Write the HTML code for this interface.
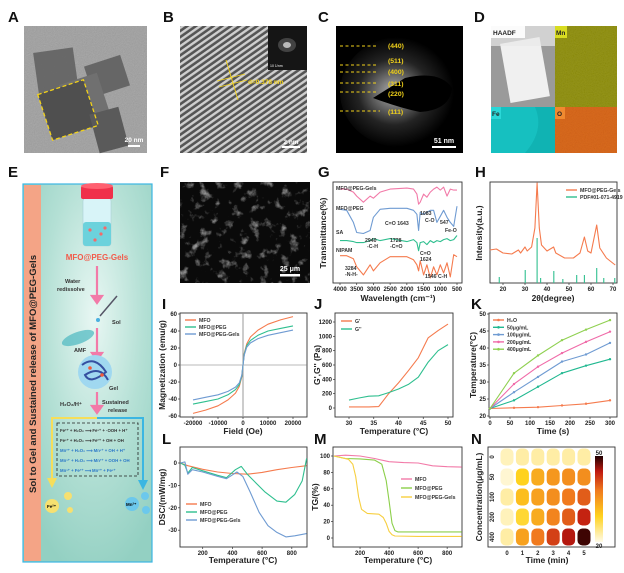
<!DOCTYPE html>
<html><head><meta charset="utf-8"><style>
html,body{margin:0;padding:0;background:#fff}
svg text{font-family:"Liberation Sans",Arial,sans-serif}
.pl{font-size:15px;font-weight:bold;fill:#111}
.tk{font-size:6px;font-weight:bold;fill:#222}
.at{font-size:8.5px;font-weight:bold;fill:#222}
.lg{font-size:5.2px;font-weight:bold;fill:#333}
</style></head><body>
<svg id="fig" width="624" height="568" viewBox="0 0 624 568" xmlns="http://www.w3.org/2000/svg">
<defs>
<filter id="noise" x="0" y="0" width="1" height="1"><feTurbulence type="fractalNoise" baseFrequency="0.9" numOctaves="2" result="n"/><feColorMatrix type="saturate" values="0"/><feComponentTransfer><feFuncA type="linear" slope="0.35"/></feComponentTransfer><feBlend in2="SourceGraphic" mode="overlay"/></filter>
<filter id="sem" x="0" y="0" width="1" height="1"><feTurbulence type="fractalNoise" baseFrequency="0.1" numOctaves="4" seed="3"/><feColorMatrix type="matrix" values="0 0 0 0 0.5  0 0 0 0 0.5  0 0 0 0 0.5  0 0 0 2.6 -1.45"/></filter>
<pattern id="stripes" width="5" height="5" patternUnits="userSpaceOnUse" patternTransform="rotate(-35)"><rect width="5" height="5" fill="#555"/><rect width="5" height="2.4" fill="#cfcfcf"/></pattern>
<radialGradient id="glow" cx="0.45" cy="0.5" r="0.5"><stop offset="0" stop-color="#fff"/><stop offset="0.25" stop-color="#aaa"/><stop offset="0.6" stop-color="#333"/><stop offset="1" stop-color="#000"/></radialGradient>
<radialGradient id="ebg" cx="0.55" cy="0.35" r="0.7"><stop offset="0" stop-color="#e8f7f3"/><stop offset="0.55" stop-color="#b4e0d5"/><stop offset="1" stop-color="#93d0c2"/></radialGradient>
<linearGradient id="cbar" x1="0" y1="1" x2="0" y2="0"><stop offset="0" stop-color="#fffbe8"/><stop offset="0.3" stop-color="#ffd21e"/><stop offset="0.6" stop-color="#f07a1e"/><stop offset="0.82" stop-color="#c01a10"/><stop offset="1" stop-color="#200000"/></linearGradient>
</defs>

<text class="pl" x="8" y="22">A</text>
<text class="pl" x="163" y="22">B</text>
<text class="pl" x="318" y="22">C</text>
<text class="pl" x="474" y="22">D</text>
<text class="pl" x="8" y="177">E</text>
<text class="pl" x="160" y="177">F</text>
<text class="pl" x="318" y="177">G</text>
<text class="pl" x="475" y="177">H</text>
<text class="pl" x="162" y="309">I</text>
<text class="pl" x="314" y="309">J</text>
<text class="pl" x="471" y="309">K</text>
<text class="pl" x="162" y="444">L</text>
<text class="pl" x="314" y="444">M</text>
<text class="pl" x="471" y="444">N</text>

<g>
<rect x="24" y="26" width="123" height="127" fill="#a2a2a2" filter="url(#noise)"/>
<rect x="36" y="50" width="40" height="45" fill="#5e5e5e" transform="rotate(-8 56 72)" opacity="0.85"/>
<rect x="88" y="60" width="38" height="32" fill="#666" transform="rotate(-18 107 76)"/>
<rect x="64" y="78" width="40" height="40" fill="#707070" transform="rotate(-18 84 98)"/>
<rect x="44" y="86" width="48" height="48" fill="#4f4f4f" transform="rotate(-18 68 110)"/>
<rect x="94" y="110" width="30" height="40" fill="#5a5a5a" transform="rotate(-15 109 130)"/>
<rect x="44" y="86" width="48" height="48" fill="none" stroke="#f2d21a" stroke-width="1.3" stroke-dasharray="4 2.5" transform="rotate(-18 68 110)"/>
<rect x="128" y="145" width="12" height="2" fill="#fff"/>
<text x="134" y="142" font-size="6.5" font-weight="bold" fill="#fff" text-anchor="middle">20 nm</text>
</g>

<g>
<rect x="180" y="26" width="127" height="127" fill="url(#stripes)"/>
<rect x="268" y="26" width="39" height="44" fill="#151515"/>
<ellipse cx="287" cy="45" rx="4" ry="3" fill="#ddd"/>
<ellipse cx="287" cy="45" rx="9" ry="7" fill="#888" opacity="0.4"/>
<text x="270" y="67" font-size="3.5" fill="#fff">10 1/nm</text>
<line x1="226" y1="60" x2="238" y2="100" stroke="#f2d21a" stroke-width="0.9"/>
<line x1="217" y1="81" x2="245" y2="74" stroke="#f2d21a" stroke-width="0.9"/>
<line x1="219" y1="87" x2="247" y2="80" stroke="#f2d21a" stroke-width="0.9"/>
<text x="248" y="84" font-size="6.5" font-weight="bold" fill="#f2d21a">d=0.378 nm</text>
<rect x="282" y="146" width="18" height="2" fill="#fff"/>
<text x="291" y="144" font-size="6.5" font-weight="bold" fill="#fff" text-anchor="middle">2 nm</text>
</g>

<g>
<rect x="336" y="26" width="127" height="127" fill="#000"/>
<ellipse cx="400" cy="92" rx="60" ry="55" fill="url(#glow)" opacity="0.7"/>
<path d="M373 98 L405 78 Q440 70 452 88 Q450 110 420 112 Q400 108 373 98 Z" fill="#000"/>
<g stroke="#f2d21a" stroke-width="1" stroke-dasharray="3 2.5" fill="#f2d21a">
<line x1="340" y1="46" x2="378" y2="46"/><line x1="340" y1="65" x2="378" y2="65"/><line x1="340" y1="72" x2="378" y2="72"/><line x1="340" y1="83" x2="378" y2="83"/><line x1="340" y1="92" x2="378" y2="92"/><line x1="340" y1="111" x2="380" y2="111"/>
</g>
<g font-size="6.8" font-weight="bold" fill="#f2d21a">
<text x="388" y="48">(440)</text><text x="388" y="63">(511)</text><text x="388" y="74">(400)</text><text x="388" y="86">(311)</text><text x="388" y="96">(220)</text><text x="388" y="114">(111)</text>
</g>
<rect x="432" y="146" width="24" height="2" fill="#fff"/>
<text x="444" y="143" font-size="7" font-weight="bold" fill="#fff" text-anchor="middle">51 nm</text>
</g>

<g>
<rect x="491" y="26" width="64" height="81" fill="#9a9a9a"/>
<rect x="505" y="40" width="40" height="60" fill="#f0f0f0" transform="rotate(-10 525 70)"/>
<rect x="491" y="26" width="64" height="20" fill="#e8e8e8" opacity="0.7"/>
<rect x="555" y="26" width="62" height="81" fill="#8f8f12" filter="url(#noise)"/>
<rect x="491" y="107" width="64" height="46" fill="#10b3b3"/>
<path d="M491 107 L535 107 Q545 130 525 153 L491 153Z" fill="#1ac8c8" opacity="0.6"/>
<rect x="555" y="107" width="62" height="46" fill="#d3661a" filter="url(#noise)"/>
<rect x="491" y="26" width="34" height="12" fill="#fff" opacity="0.9"/>
<text x="493" y="35" font-size="6.5" font-weight="bold" fill="#222">HAADF</text>
<rect x="555" y="26" width="12" height="12" fill="#d8dc20"/><text x="556" y="35" font-size="6.5" font-weight="bold" fill="#222">Mn</text>
<rect x="491" y="107" width="10" height="12" fill="#2ad8d8"/><text x="492" y="116" font-size="6.5" font-weight="bold" fill="#222">Fe</text>
<rect x="555" y="107" width="10" height="12" fill="#f08a30"/><text x="557" y="116" font-size="6.5" font-weight="bold" fill="#222">O</text>
</g>

<g>
<rect x="23" y="184" width="129" height="378" fill="url(#ebg)" stroke="#3bb6e2" stroke-width="1.2"/>
<rect x="24" y="185" width="17" height="376" fill="#f4a486"/>
<text transform="translate(36 374) rotate(-90)" text-anchor="middle" font-size="9.6" font-weight="bold" fill="#222">Sol to Gel and Sustained release of MFO@PEG-Gels</text>
<rect x="83" y="198" width="28" height="48" rx="3" fill="#d8f4f8" stroke="#aacfd6" stroke-width="0.6"/>
<rect x="83" y="222" width="28" height="24" rx="3" fill="#6cd2dc"/>
<rect x="81" y="186" width="32" height="13" rx="2" fill="#f0304a"/>
<ellipse cx="97" cy="186" rx="16" ry="3" fill="#ff6070"/>
<circle cx="90" cy="230" r="1.6" fill="#f46a6a"/><circle cx="101" cy="234" r="1.6" fill="#f46a6a"/><circle cx="95" cy="240" r="1.6" fill="#f46a6a"/><circle cx="105" cy="228" r="1.6" fill="#f46a6a"/>
<text x="97" y="260" text-anchor="middle" font-size="8" font-weight="bold" fill="#f25a4a">MFO@PEG-Gels</text>
<g stroke="#f27aa8" stroke-width="2.2" fill="#f27aa8">
<line x1="97" y1="266" x2="97" y2="298"/><path d="M92 296 L102 296 L97 303Z"/>
<line x1="97" y1="328" x2="97" y2="355"/><path d="M92 353 L102 353 L97 360Z"/>
<line x1="97" y1="392" x2="97" y2="407"/><path d="M92 406 L102 406 L97 413Z"/>
</g>
<text x="65" y="283" font-size="5.6" font-weight="bold" fill="#333">Water</text>
<text x="57" y="291" font-size="5.6" font-weight="bold" fill="#333">redissolve</text>
<line x1="100" y1="316" x2="117" y2="296" stroke="#556" stroke-width="1.5"/>
<circle cx="98" cy="320" r="2" fill="#4ab0e0"/>
<text x="112" y="324" font-size="5.6" font-weight="bold" fill="#333">Sol</text>
<ellipse cx="78" cy="338" rx="17" ry="6" fill="#4cb8c0" opacity="0.7" transform="rotate(-20 78 338)"/>
<text x="74" y="352" font-size="5.6" font-weight="bold" fill="#333">AMF</text>
<circle cx="95" cy="372" r="17" fill="#a0d8f0"/>
<path d="M82 365 Q95 355 106 372 Q90 385 85 375 Q100 365 108 380" fill="none" stroke="#3550a0" stroke-width="2"/>
<circle cx="90" cy="368" r="1.8" fill="#f25a3a"/><circle cx="102" cy="375" r="1.8" fill="#f25a3a"/>
<text x="109" y="390" font-size="5.6" font-weight="bold" fill="#333">Gel</text>
<text x="60" y="406" font-size="5.6" font-weight="bold" fill="#333">H₂O₂/H⁺</text>
<text x="102" y="404" font-size="5.6" font-weight="bold" fill="#333">Sustained</text>
<text x="108" y="412" font-size="5.6" font-weight="bold" fill="#333">release</text>
<path d="M97 418 L52 418 L52 480" fill="none" stroke="#f6de5a" stroke-width="2"/>
<path d="M47 478 L57 478 L52 488Z" fill="#f6de5a"/>
<path d="M97 418 L143 418 L143 482" fill="none" stroke="#3bb6e2" stroke-width="2"/>
<path d="M138 480 L148 480 L143 490Z" fill="#3bb6e2"/>
<rect x="57" y="423" width="81" height="53" fill="none" stroke="#222" stroke-width="0.8" stroke-dasharray="3 2"/>
<g font-size="4.3" font-weight="bold" fill="#333">
<text x="60" y="432">Fe²⁺ + H₂O₂ ⟶ Fe³⁺ + ·OOH + H⁺</text>
<text x="60" y="442">Fe³⁺ + H₂O₂ ⟶ Fe²⁺ + OH + OH</text>
<text x="60" y="452" fill="#2a78c8">Mn²⁺ + H₂O₂ ⟶ Mn³⁺ + OH + H⁺</text>
<text x="60" y="462" fill="#2a78c8">Mn³⁺ + H₂O₂ ⟶ Mn²⁺ + OOH + OH</text>
<text x="60" y="472" fill="#2a78c8">Mn³⁺ + Fe²⁺ ⟶ Mn²⁺ + Fe³⁺</text>
</g>
<circle cx="52" cy="506" r="7" fill="#f6e070"/><text x="47" y="508" font-size="4.5" font-weight="bold">Fe²⁺</text>
<circle cx="68" cy="496" r="4" fill="#f6e070"/><circle cx="70" cy="510" r="3" fill="#f6e070"/>
<circle cx="132" cy="504" r="7" fill="#6cc8ec"/><text x="126" y="506" font-size="4.5" font-weight="bold">Mn²⁺</text>
<circle cx="145" cy="496" r="4" fill="#6cc8ec"/><circle cx="146" cy="510" r="4" fill="#6cc8ec"/>
</g>

<g>
<rect x="180" y="182" width="130" height="101" fill="#0a0a0a"/>
<rect x="180" y="182" width="130" height="101" filter="url(#sem)"/>
<rect x="280" y="274" width="20" height="2.5" fill="#fff"/>
<text x="290" y="271" font-size="7" font-weight="bold" fill="#fff" text-anchor="middle">25 μm</text>
</g>

<g id="charts"></g>
</svg>
<script>
const NS='http://www.w3.org/2000/svg';
const root=document.getElementById('charts');

const G_WN=[4000,3800,3600,3500,3300,3100,3000,2800,2500,2000,1800,1700,1650,1600,1500,1400,1300,1200,1100,1000,900,800,700,600,500];
const G_GELS=[93,93,90,86,80,86,84,90,93,94,93,88,78,80,88,85,90,93,95,92,95,86,93,92,92];
const G_PEG=[73,72,60,50,49,52,65,73,74,74,72,68,52,70,68,70,72,72,60,66,72,65,60,56,76];
const G_SA=[42,42,41,40,40,42,44,42,44,41,43,40,32,40,41,38,42,40,42,41,43,44,42,43,47];
const G_NIPAM=[27,27,24,16,8,18,12,20,26,26,23,18,12,22,8,18,5,16,8,18,10,20,6,28,26];
const G_TICKS=[4000,3500,3000,2500,2000,1500,1000,500];

const H_X=[14,17,20,24,27,28,30,31,33,34.5,35.5,36.5,37.5,40,43,44,48,52,55,57,58.5,60,62.6,64,67,71];
const H_Y=[33,34,30,29,33,30,36,32,36,55,100,55,38,32,36,30,25,25,30,46,32,30,58,35,25,18];
const H_PDF_X=[18.3,30.1,35.5,37.1,43.1,47.2,53.5,57,62.6,65.8,70.8];
const H_PDF_H=[6,13,45,5,12,4,8,8,15,5,5];
const H_TICKS=[20,30,40,50,60,70];

const I_X=[-20000,-15000,-10000,-6000,-3000,-1500,-500,0,500,1500,3000,6000,10000,15000,20000];
const I_MFO=[-57,-53,-48,-41,-33,-25,-14,0,14,25,33,41,48,53,57];
const I_PEG=[-46,-43,-40,-35,-29,-23,-13,0,13,23,29,35,40,43,46];
const I_GELS=[-41,-38,-35,-31,-26,-21,-12,0,12,21,26,31,35,38,41];
const I_XT=[-20000,-10000,0,10000,20000];
const I_YT=[-60,-40,-20,0,20,40,60];

const J_T=[30,32,34,36,38,40,42,44,46,48,50];
const J_G1=[15,15,15,20,200,350,520,700,980,1080,1170];
const J_G2=[110,140,165,170,215,265,330,430,640,800,885];
const J_XT=[30,35,40,45,50];
const J_YT=[0,200,400,600,800,1000,1200];

const K_T=[0,60,120,180,240,300];
const K_H2O=[22.2,22.4,22.6,23.1,23.6,24.6];
const K_50=[22.2,24.6,28.6,32.6,34.8,36.7];
const K_100=[22.2,27,31.5,36,38.1,41.5];
const K_200=[22.2,29.4,34.5,38.5,41.8,44.8];
const K_400=[22.2,32.6,37.8,42.3,45.4,48.2];
const K_XT=[0,50,100,150,200,250,300];
const K_YT=[20,25,30,35,40,45,50];

const L_MFO_X=[50,100,200,300,400,500,600,700,800,900];
const L_MFO=[0,-1.2,-2.8,-4,-4.7,-5,-4.2,-3,-2,-1.2];
const L_PEG_X=[50,80,100,130,200,300,360,420,460,500,560,620,660,700,760,820,870,900];
const L_PEG=[0,-1,-4.5,-2,-3.5,-5.5,-6.5,-3,-1.5,-5,-9,-13,-15,-17,-17.5,-14,-8,2];
const L_GELS_X=[50,80,100,130,200,300,360,430,470,520,580,640,700,760,820,900];
const L_GELS=[0,0.5,-5,-3,-4,-6,-7,-4,-6,-13,-22,-28,-31,-33,-32.5,-31.5];
const L_XT=[200,400,600,800];
const L_YT=[0,-10,-20,-30];

const M_MFO_X=[20,100,200,300,400,500,600,700,800,900];
const M_MFO=[100,101,100,97,93,92,91.5,88,87,86.5];
const M_PEG_X=[20,100,200,300,350,380,400,420,440,460,600,900];
const M_PEG=[100,97,96.5,95,90,70,45,18,9,7.5,7.5,7.5];
const M_GELS_X=[20,120,150,170,190,210,250,330,360,380,400,420,440,600,900];
const M_GELS=[100,96,90,75,50,35,30,29,25,18,8,4,2.5,2,2];
const M_XT=[200,400,600,800];
const M_YT=[0,20,40,60,80,100];

const N_TIME=['0','1','2','3','4','5'];
const N_CONC=['0','50','100','200','400'];
const N_VALS=[[22,23,23,23,23,23],[21,29,33,35,36,36],[23,31,34,36,38,40],[22,28,33,37,40,44],[23,34,38,42,45,49]];

function mk(tag,attrs,parent){const e=document.createElementNS(NS,tag);for(const k in attrs)e.setAttribute(k,attrs[k]);(parent||root).appendChild(e);return e;}
function txt(x,y,s,cls,anchor,extra){const e=mk('text',Object.assign({x:x,y:y,class:cls,'text-anchor':anchor||'middle'},extra||{}));e.textContent=s;return e;}
function frame(x0,y0,x1,y1,name){const r=mk('rect',{x:x0,y:y0,width:x1-x0,height:y1-y0,fill:'none',stroke:'#333','stroke-width':0.9});

}
function line(xs,ys,sx,sy,color,name,w){let d='';for(let i=0;i<xs.length;i++)d+=(i?'L':'M')+sx(xs[i]).toFixed(1)+' '+sy(ys[i]).toFixed(1);
const p=mk('path',{d:d,fill:'none',stroke:color,'stroke-width':w||1.1,'stroke-linejoin':'round'});

return p;}
function xticks(vals,sx,y,labels){vals.forEach((v,i)=>{mk('line',{x1:sx(v),x2:sx(v),y1:y,y2:y+2,stroke:'#333','stroke-width':0.7});
const t=txt(sx(v),y+8,labels?labels[i]:String(v),'tk');

});}
function yticks(vals,sy,x){vals.forEach(v=>{mk('line',{x1:x-2,x2:x,y1:sy(v),y2:sy(v),stroke:'#333','stroke-width':0.7});
const t=txt(x-3,sy(v)+2,String(v),'tk','end');

});}
function ytitle(x,y,s,name){const t=txt(x,y,s,'at','middle',{transform:'rotate(-90 '+x+' '+y+')'});

}
function xtitle(x,y,s,name){const t=txt(x,y,s,'at');

}
function legend(x,y,color,s,name,marker){mk('line',{x1:x,x2:x+11,y1:y,y2:y,stroke:color,'stroke-width':1.4});
if(marker)mk('circle',{cx:x+5.5,cy:y,r:1.3,fill:color});
const t=txt(x+14,y+2,s,'lg','start');

}

{const sx=v=>340+(4000-v)*(117/3500), sy=v=>283-v*1.01;
frame(333,182,462,283,'ftir-plot-frame');
line(G_WN,G_GELS,sx,sy,'#f27aa8','ftir-gels-line');
line(G_WN,G_PEG,sx,sy,'#6f9bd2','ftir-peg-line');
line(G_WN,G_SA,sx,sy,'#2fbf8f','ftir-sa-line');
line(G_WN,G_NIPAM,sx,sy,'#f57b4e','ftir-nipam-line');
xticks(G_TICKS,sx,283);
xtitle(398,301,'Wavelength (cm⁻¹)','ftir-x-title');
ytitle(326,233,'Transmittance(%)','ftir-y-title');
const lab=[[336,190,'MFO@PEG-Gels','#f27aa8'],[336,210,'MFO@PEG','#6f9bd2'],[336,234,'SA','#2fbf8f'],[336,252,'NIPAM','#f57b4e']];
lab.forEach(l=>{const t=txt(l[0],l[1],l[2],'lg','start',{fill:l[3],'font-size':6.5});

});
const ann=[[385,225,'C=O 1643','#6f9bd2'],[420,215,'1083','#6f9bd2'],[425,222,'C-O','#6f9bd2'],[440,224,'547','#6f9bd2'],[445,232,'Fe-O','#6f9bd2'],[365,242,'2940','#2fbf8f'],[367,248,'-C-H','#2fbf8f'],[390,242,'1728','#2fbf8f'],[390,248,'-C=O','#2fbf8f'],[420,255,'C=O','#f57b4e'],[420,261,'1624','#f57b4e'],[345,270,'3284','#f57b4e'],[345,276,'-N-H-','#f57b4e'],[425,278,'1546 C-H','#f57b4e']];
ann.forEach(a=>{const t=txt(a[0],a[1],a[2],'lg','start',{fill:a[3],'font-size':4.5});

});}

{const sx=v=>503+(v-20)*2.2, sy=v=>283-v*1.0;
frame(490,182,617,283,'xrd-plot-frame');
line(H_X,H_Y,sx,sy,'#f57b4e','xrd-gels-line');
H_PDF_X.forEach((v,i)=>{const l=mk('line',{x1:sx(v),x2:sx(v),y1:283,y2:sy(H_PDF_H[i]),stroke:'#2fbf8f','stroke-width':1.1});

});
xticks(H_TICKS,sx,283);
xtitle(553,301,'2θ(degree)','xrd-x-title');
ytitle(482,233,'Intensity(a.u.)','xrd-y-title');
legend(566,190,'#f57b4e','MFO@PEG-Gels','xrd-legend-gels');
legend(566,197,'#2fbf8f','PDF#01-071-4919','xrd-legend-pdf');}

{const sx=v=>243+v*50/20000, sy=v=>365-v*(51/60);
frame(180,313,307,417,'vsm-plot-frame');
mk('line',{x1:180,x2:307,y1:sy(0),y2:sy(0),stroke:'#777','stroke-width':0.6});
mk('line',{x1:sx(0),x2:sx(0),y1:313,y2:417,stroke:'#999','stroke-width':1});
line(I_X,I_MFO,sx,sy,'#f57b4e','vsm-mfo-line');
line(I_X,I_PEG,sx,sy,'#2fbf8f','vsm-peg-line');
line(I_X,I_GELS,sx,sy,'#6f9bd2','vsm-gels-line');
xticks(I_XT,sx,417);yticks(I_YT,sy,180);
xtitle(243,434,'Field (Oe)','vsm-x-title');
ytitle(165,365,'Magnetization (emu/g)','vsm-y-title');
legend(185,320,'#f57b4e','MFO','vsm-legend-mfo');legend(185,327,'#2fbf8f','MFO@PEG','vsm-legend-peg');legend(185,334,'#6f9bd2','MFO@PEG-Gels','vsm-legend-gels');}

{const sx=v=>349+(v-30)*(99/20), sy=v=>408-v*(86/1200);
frame(335,313,453,417,'rheology-plot-frame');
line(J_T,J_G1,sx,sy,'#f57b4e','rheology-g-prime-line');
line(J_T,J_G2,sx,sy,'#2fbf8f','rheology-g-double-prime-line');
xticks(J_XT,sx,417);yticks(J_YT,sy,335);
xtitle(394,434,'Temperature (°C)','rheology-x-title');
ytitle(320,365,"G',G'' (Pa)",'rheology-y-title');
legend(341,321,'#f57b4e',"G'",'rheology-legend-g1');legend(341,329,'#2fbf8f',"G''",'rheology-legend-g2');}

{const sx=v=>490+v*(120/300), sy=v=>416-(v-20)*(102/30);
frame(489,313,617,417,'photothermal-plot-frame');
const ser=[[K_H2O,'#f57b4e','H₂O'],[K_50,'#20b890','50μg/mL'],[K_100,'#6f9bd2','100μg/mL'],[K_200,'#f06aa8','200μg/mL'],[K_400,'#8fd050','400μg/mL']];
ser.forEach((s,i)=>{line(K_T,s[0],sx,sy,s[1],'photothermal-line-'+i);
K_T.forEach((t,j)=>{const c=mk('circle',{cx:sx(t),cy:sy(s[0][j]),r:1.2,fill:s[1]});

});
legend(493,320+i*7.3,s[1],s[2],'photothermal-legend-'+i,true);});
xticks(K_XT,sx,417);yticks(K_YT,sy,489);
xtitle(553,434,'Time (s)','photothermal-x-title');
ytitle(476,365,'Temperature(°C)','photothermal-y-title');}

{const sx=v=>173+v*(29.7/200), sy=v=>463-v*2.24;
frame(180,447,307,547,'dsc-plot-frame');
line(L_MFO_X,L_MFO,sx,sy,'#f57b4e','dsc-mfo-line');
line(L_PEG_X,L_PEG,sx,sy,'#2fbf8f','dsc-peg-line');
line(L_GELS_X,L_GELS,sx,sy,'#6f9bd2','dsc-gels-line');
xticks(L_XT,sx,547);yticks(L_YT,sy,180);
xtitle(243,563,'Temperature (°C)','dsc-x-title');
ytitle(165,497,'DSC/(mW/mg)','dsc-y-title');
legend(186,504,'#f57b4e','MFO','dsc-legend-mfo');legend(186,512,'#2fbf8f','MFO@PEG','dsc-legend-peg');legend(186,520,'#6f9bd2','MFO@PEG-Gels','dsc-legend-gels');}

{const sx=v=>331+v*0.1452, sy=v=>538-v*0.82;
frame(333,447,462,547,'tga-plot-frame');
line(M_MFO_X,M_MFO,sx,sy,'#f27aa8','tga-mfo-line');
line(M_PEG_X,M_PEG,sx,sy,'#8ccf4a','tga-peg-line');
line(M_GELS_X,M_GELS,sx,sy,'#f7cf40','tga-gels-line');
xticks(M_XT,sx,547);yticks(M_YT,sy,333);
xtitle(398,563,'Temperature (°C)','tga-x-title');
ytitle(318,497,'TG/(%)','tga-y-title');
legend(401,479,'#f27aa8','MFO','tga-legend-mfo');legend(401,488,'#8ccf4a','MFO@PEG','tga-legend-peg');legend(401,497,'#f7cf40','MFO@PEG-Gels','tga-legend-gels');}

{const cx=i=>507+i*15.4, cy=j=>457+j*20;
frame(488,447,615,547,'thermal-image-frame');
function col(v){const t=Math.max(0,Math.min(1,(v-20)/30));const st=[[0,[255,251,232]],[0.3,[255,210,30]],[0.6,[240,122,30]],[0.82,[192,26,16]],[1,[32,0,0]]];
for(let k=1;k<st.length;k++){if(t<=st[k][0]){const a=st[k-1],b=st[k];const f=(t-a[0])/(b[0]-a[0]);return 'rgb('+a[1].map((c,m)=>Math.round(c+(b[1][m]-c)*f)).join(',')+')';}}return 'rgb(32,0,0)';}
N_VALS.forEach((row,j)=>row.forEach((v,i)=>{const r=mk('rect',{x:cx(i)-6.5,y:cy(j)-8.5,width:13,height:17,rx:5,fill:col(v)});

}));
N_TIME.forEach((s,i)=>{const t=txt(cx(i),555,s,'tk');

});
N_CONC.forEach((s,j)=>{const t=txt(494,cy(j),s,'tk','middle',{transform:'rotate(-90 494 '+cy(j)+')'});

});
const cb=mk('rect',{x:595,y:456,width:8,height:86,fill:'url(#cbar)'});


txt(599,455,'50','tk');txt(599,548,'20','tk');
xtitle(547,563,'Time (min)','thermal-x-title');
ytitle(482,497,'Concentration(μg/mL)','thermal-y-title');}
</script>
</body></html>
